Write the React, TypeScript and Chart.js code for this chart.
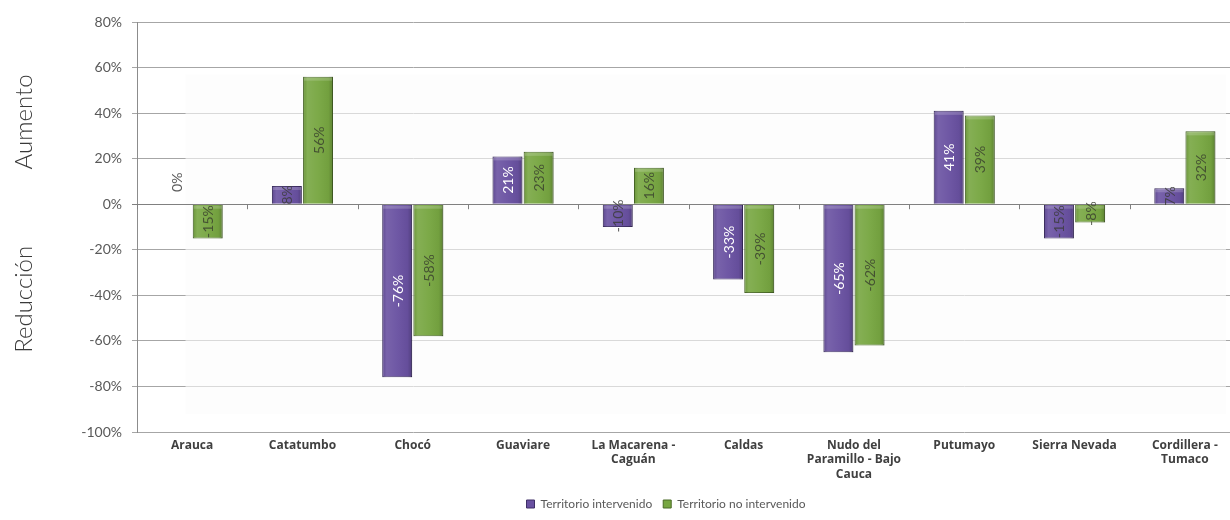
import React, { useEffect, useRef } from 'react';
import { Chart, registerables } from 'chart.js';

Chart.register(...registerables);

const categories: (string | string[])[] = [
  'Arauca',
  'Catatumbo',
  'Chocó',
  'Guaviare',
  ['La Macarena -', 'Caguán'],
  'Caldas',
  ['Nudo del', 'Paramillo - Bajo', 'Cauca'],
  'Putumayo',
  'Sierra Nevada',
  ['Cordillera -', 'Tumaco'],
];
const intervenido = [0, 8, -76, 21, -10, -33, -65, 41, -15, 7];
const noIntervenido = [-15, 56, -58, 23, 16, -39, -62, 39, -8, 32];
const seriesNames = ['Territorio intervenido', 'Territorio no intervenido'];
const yMin = -100;
const yMax = 80;
const yStep = 20;
const sideLabelTop = 'Aumento';
const sideLabelBottom = 'Reducción';

const FONT = "Lato, 'Liberation Sans', 'DejaVu Sans', sans-serif";
const XFONT = "'Open Sans', 'DejaVu Sans', sans-serif";
const PURPLE = '#6951a1';
const GREEN = '#77a641';

const backWallPlugin = {
  id: 'backWall',
  beforeDatasetsDraw(chart: any) {
    const ctx = chart.ctx;
    const x = chart.scales.x;
    const y = chart.scales.y;
    const catW = (x.right - x.left) / categories.length;
    const left = x.left + catW * 0.44;
    const top = y.getPixelForValue(57);
    const bottom = y.getPixelForValue(-92);
    ctx.save();
    ctx.fillStyle = 'rgba(252,252,252,0.6)';
    ctx.fillRect(left, top, x.right - 14 - left, bottom - top);
    ctx.restore();
  },
};

const dataLabelsPlugin = {
  id: 'dataLabels',
  afterDatasetsDraw(chart: any) {
    const ctx = chart.ctx;
    ctx.save();
    ctx.font = `14px ${FONT}`;
    ctx.textAlign = 'center';
    ctx.textBaseline = 'middle';
    chart.data.datasets.forEach((ds: any, di: number) => {
      const meta = chart.getDatasetMeta(di);
      meta.data.forEach((bar: any, i: number) => {
        const v = ds.data[i] as number;
        let yc = (bar.y + bar.base) / 2;
        if (v === 0) yc = bar.base - 22;
        let color: string;
        if (di === 0) color = Math.abs(v) >= 20 ? '#ffffff' : 'rgba(60,60,60,0.85)';
        else color = 'rgba(55,60,45,0.8)';
        ctx.save();
        ctx.translate(bar.x, yc);
        ctx.rotate(-Math.PI / 2);
        ctx.fillStyle = color;
        ctx.fillText(`${v}%`, 0, 1);
        ctx.restore();
      });
    });
    ctx.restore();
  },
};

const barShadePlugin = {
  id: 'barShade',
  afterDatasetsDraw(chart: any) {
    const ctx = chart.ctx;
    ctx.save();
    chart.data.datasets.forEach((_ds: any, di: number) => {
      const meta = chart.getDatasetMeta(di);
      meta.data.forEach((bar: any) => {
        const left = bar.x - bar.width / 2;
        const top = Math.min(bar.y, bar.base);
        const h = Math.abs(bar.base - bar.y);
        const g = ctx.createLinearGradient(left, 0, left + bar.width, 0);
        g.addColorStop(0, 'rgba(0,0,0,0.10)');
        g.addColorStop(0.15, 'rgba(255,255,255,0.10)');
        g.addColorStop(0.5, 'rgba(255,255,255,0.04)');
        g.addColorStop(0.85, 'rgba(0,0,0,0.04)');
        g.addColorStop(1, 'rgba(0,0,0,0.22)');
        ctx.fillStyle = g;
        ctx.fillRect(left, top, bar.width, h);
        if (h > 4) {
          ctx.fillStyle = 'rgba(255,255,255,0.18)';
          ctx.fillRect(left + 1, top + 1, bar.width - 2, 3);
        }
      });
    });
    ctx.restore();
  },
};

const axisDecorPlugin = {
  id: 'axisDecor',
  afterDatasetsDraw(chart: any) {
    const ctx = chart.ctx;
    const x = chart.scales.x;
    const y = chart.scales.y;
    const y0 = y.getPixelForValue(0);
    ctx.save();
    ctx.strokeStyle = '#808080';
    ctx.lineWidth = 1;
    ctx.beginPath();
    ctx.moveTo(x.left, Math.round(y0) + 0.5);
    ctx.lineTo(x.right, Math.round(y0) + 0.5);
    for (let i = 0; i <= categories.length; i++) {
      const px = Math.round(x.getPixelForValue(i - 0.5)) + 0.5;
      ctx.moveTo(px, y0);
      ctx.lineTo(px, y0 + 5);
    }
    ctx.stroke();
    ctx.restore();
  },
  afterDraw(chart: any) {
    const ctx = chart.ctx;
    const y = chart.scales.y;
    ctx.save();
    ctx.font = `300 24px ${FONT}`;
    ctx.fillStyle = '#3a3a3a';
    ctx.textAlign = 'center';
    ctx.textBaseline = 'middle';
    const drawSide = (text: string, yc: number) => {
      ctx.save();
      ctx.translate(24, yc);
      ctx.rotate(-Math.PI / 2);
      ctx.fillText(text, 0, 0);
      ctx.restore();
    };
    drawSide(sideLabelTop, (y.getPixelForValue(60) + y.getPixelForValue(0)) / 2 - 14);
    drawSide(sideLabelBottom, (y.getPixelForValue(0) + y.getPixelForValue(-80)) / 2 + 4);
    ctx.restore();
  },
};

export default function App() {
  const ref = useRef<HTMLCanvasElement | null>(null);
  useEffect(() => {
    if (!ref.current) return;
    const chart = new Chart(ref.current, {
      type: 'bar',
      data: {
        labels: categories,
        datasets: [
          {
            label: seriesNames[0],
            data: intervenido,
            backgroundColor: PURPLE,
            borderColor: '#3e2f66',
            borderWidth: 1,
            categoryPercentage: 0.565,
            barPercentage: 0.96,
          },
          {
            label: seriesNames[1],
            data: noIntervenido,
            backgroundColor: GREEN,
            borderColor: '#4b6b27',
            borderWidth: 1,
            categoryPercentage: 0.565,
            barPercentage: 0.96,
          },
        ],
      },
      options: {
        animation: false,
        responsive: false,
        layout: { padding: { top: 22, bottom: 0, left: 0, right: 0 } },
        plugins: {
          tooltip: { enabled: false },
          legend: {
            position: 'bottom',
            maxHeight: 34,
            labels: {
              boxWidth: 8,
              boxHeight: 8,
              padding: 11,
              color: '#595959',
              font: { family: FONT, size: 12 },
            },
          },
        },
        scales: {
          x: {
            grid: { display: false, drawTicks: false },
            border: { display: false },
            ticks: {
              color: '#404040',
              padding: 7,
              maxRotation: 0,
              autoSkip: false,
              font: { family: XFONT, size: 12, weight: 'bold', lineHeight: 1.17 },
            },
            afterFit: (s: any) => {
              s.height = 55;
            },
          },
          y: {
            min: yMin,
            max: yMax,
            ticks: {
              stepSize: yStep,
              padding: 10,
              color: '#595959',
              font: { family: FONT, size: 14 },
              callback: (v: any) => `${v}%`,
            },
            grid: {
              color: (c: any) => (c.tick && c.tick.value === 0 ? '#808080' : '#a6a6a6'),
              tickLength: 5,
            },
            border: { display: true, color: '#8c8c8c' },
            afterFit: (s: any) => {
              s.width = 137;
            },
          },
          yR: {
            position: 'right',
            display: true,
            grid: { display: false },
            border: { display: false },
            ticks: { display: false },
            afterFit: (s: any) => {
              s.width = 92;
            },
          },
        },
      } as any,
      plugins: [backWallPlugin, barShadePlugin, axisDecorPlugin, dataLabelsPlugin],
    });
    return () => chart.destroy();
  }, []);
  return (
    <div
      style={{
        position: 'fixed',
        left: 0,
        top: 0,
        width: 1230,
        height: 520,
        overflow: 'hidden',
        background: '#ffffff',
      }}
    >
      <canvas ref={ref} width={1332} height={520} style={{ display: 'block' }} />
    </div>
  );
}
